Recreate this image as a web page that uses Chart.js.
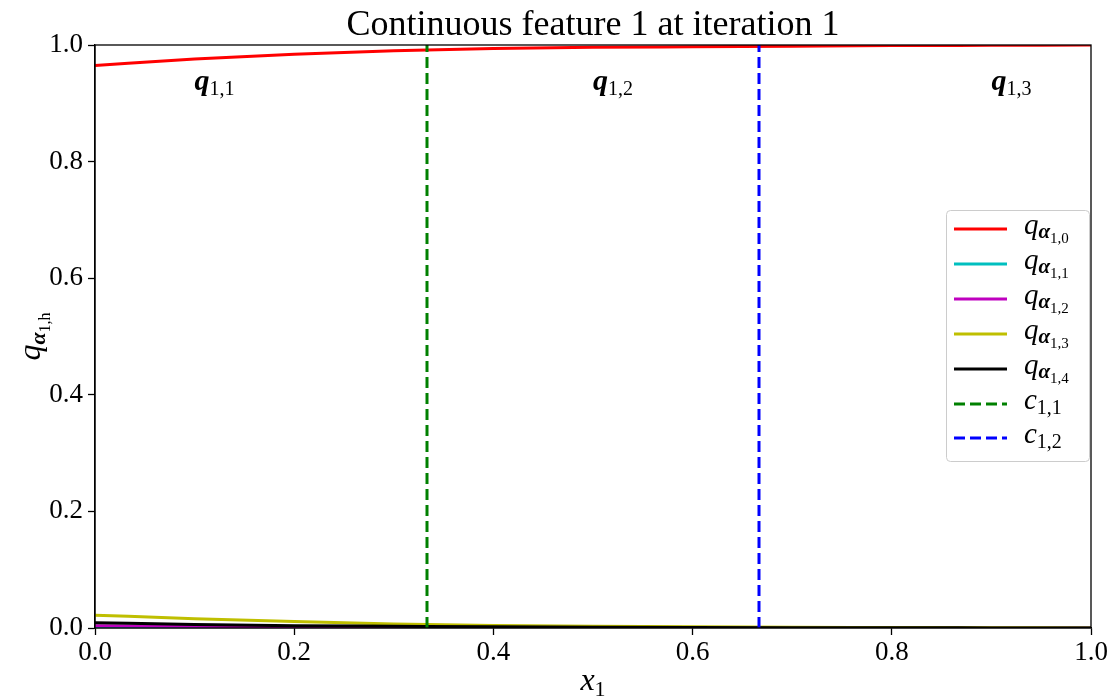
<!DOCTYPE html>
<html>
<head>
<meta charset="utf-8">
<script src="https://cdn.jsdelivr.net/npm/chart.js@4.4.1/dist/chart.umd.min.js"></script>
<style>
  html, body { margin: 0; padding: 0; background: #fff; }
  #wrap { width: 1117px; height: 700px; }
</style>
</head>
<body>
<div id="wrap"><canvas id="chart" width="1117" height="700"></canvas></div>
<script>
// --- data ---
const xs = [0, 0.1, 0.2, 0.3, 0.4, 0.5, 0.6, 0.7, 0.8, 0.9, 1.0];
const q0 = [0.965, 0.976, 0.984, 0.990, 0.994, 0.996, 0.997, 0.998, 0.999, 0.9995, 1.0];
const q1 = [0.001, 0.0008, 0.0006, 0.0004, 0.0003, 0.0002, 0.0001, 0.0001, 0, 0, 0];
const q2 = [0.004, 0.003, 0.002, 0.0015, 0.001, 0.0007, 0.0005, 0.0003, 0.0002, 0.0001, 0];
const q3 = [0.022, 0.016, 0.011, 0.007, 0.0045, 0.003, 0.002, 0.0012, 0.0008, 0.0004, 0.0002];
const q4 = [0.009, 0.006, 0.004, 0.003, 0.002, 0.0013, 0.0008, 0.0005, 0.0003, 0.0002, 0.0001];
const cuts = [1 / 3, 2 / 3];
const regionLabels = ['1,1', '1,2', '1,3'];
const regionX = [0.1, 0.5, 0.9];
const regionY = 0.922;
const xTicks = [0, 0.2, 0.4, 0.6, 0.8, 1.0];

const seriesColors = ['#ff0000', '#00bfbf', '#bf00bf', '#bfbf00', '#000000'];
const cutColors = ['#008000', '#0000ff'];
const serif = '"Liberation Serif", "DejaVu Serif", serif';

const pts = arr => arr.map((v, i) => ({ x: xs[i], y: v }));
const qSeries = [q0, q1, q2, q3, q4];

const datasets = qSeries.map((arr, i) => ({
  label: 'q' + i,
  data: pts(arr),
  borderColor: seriesColors[i],
  borderWidth: 3,
  pointRadius: 0,
  cubicInterpolationMode: 'monotone',
  order: 20 - i
}));
cuts.forEach((c, i) => {
  datasets.push({
    label: 'c' + i,
    data: [{ x: c, y: 0 }, { x: c, y: 1 }],
    borderColor: cutColors[i],
    borderWidth: 3,
    borderDash: [11, 5],
    pointRadius: 0,
    order: 5 - i
  });
});

// draw a piece of math-ish text: parts = [[text, font, dy], ...]
function drawParts(ctx, parts, x, y) {
  let cx = x;
  parts.forEach(([t, f, dy]) => {
    ctx.font = f;
    ctx.fillText(t, cx, y + (dy || 0));
    cx += ctx.measureText(t).width;
  });
  return cx - x;
}
function partsWidth(ctx, parts) {
  let w = 0;
  parts.forEach(([t, f]) => { ctx.font = f; w += ctx.measureText(t).width; });
  return w;
}

const qParts = sub => [
  ['q', 'italic 29px ' + serif, 0],
  ['α', 'bold italic 21px ' + serif, 4],
  [sub, '15px ' + serif, 9]
];

const decor = {
  id: 'decor',
  afterDraw(chart) {
    const ctx = chart.ctx;
    const a = chart.chartArea;
    const xs_ = chart.scales.x, ys_ = chart.scales.y;
    ctx.save();
    ctx.fillStyle = '#000';
    ctx.textBaseline = 'alphabetic';

    // frame
    ctx.strokeStyle = '#000';
    ctx.lineWidth = 1.3;
    ctx.strokeRect(a.left, a.top, a.right - a.left, a.bottom - a.top);

    // title
    ctx.font = '36px ' + serif;
    ctx.textAlign = 'center';
    ctx.fillText('Continuous feature 1 at iteration 1', (a.left + a.right) / 2, 35);

    // region labels
    ctx.textAlign = 'left';
    regionLabels.forEach((s, i) => {
      const px = xs_.getPixelForValue(regionX[i]);
      const py = ys_.getPixelForValue(regionY);
      drawParts(ctx, [['q', 'bold italic 30px ' + serif, 0], [s, '20px ' + serif, 5]], px, py);
    });

    // x label
    const xl = [['x', 'italic 32px ' + serif, 0], ['1', '22px ' + serif, 6]];
    drawParts(ctx, xl, (a.left + a.right) / 2 - partsWidth(ctx, xl) / 2, 690);

    // y label (rotated)
    ctx.save();
    ctx.translate(40, (a.top + a.bottom) / 2);
    ctx.rotate(-Math.PI / 2);
    const yl = [['q', 'italic 32px ' + serif, 0], ['α', 'bold italic 22px ' + serif, 5], ['1,h', '16px ' + serif, 10]];
    drawParts(ctx, yl, -partsWidth(ctx, yl) / 2, 0);
    ctx.restore();

    // legend
    const lx = 946, ly = 210, lw = 143, lh = 251;
    ctx.fillStyle = 'rgba(255,255,255,0.85)';
    ctx.strokeStyle = '#cccccc';
    ctx.lineWidth = 1;
    ctx.beginPath();
    ctx.roundRect(lx + 0.5, ly + 0.5, lw, lh, 4);
    ctx.fill();
    ctx.stroke();
    const rowY = [229, 264, 299, 334, 369, 404, 438];
    const entries = [];
    qSeries.forEach((_, i) => entries.push({ color: seriesColors[i], dash: [], parts: qParts('1,' + i) }));
    cuts.forEach((_, i) => entries.push({
      color: cutColors[i], dash: [11, 5],
      parts: [['c', 'italic 29px ' + serif, 0], ['1,' + (i + 1), '20px ' + serif, 5]]
    }));
    entries.forEach((e, i) => {
      ctx.strokeStyle = e.color;
      ctx.lineWidth = 3;
      ctx.setLineDash(e.dash);
      ctx.beginPath();
      ctx.moveTo(954, rowY[i]);
      ctx.lineTo(1007, rowY[i]);
      ctx.stroke();
      ctx.setLineDash([]);
      ctx.fillStyle = '#000';
      drawParts(ctx, e.parts, 1024, rowY[i] + 5);
    });
    ctx.restore();
  }
};

new Chart(document.getElementById('chart'), {
  type: 'line',
  data: { datasets },
  options: {
    responsive: false,
    animation: false,
    layout: { padding: { top: 45, right: 26, left: 0, bottom: 0 } },
    plugins: { legend: { display: false }, tooltip: { enabled: false } },
    scales: {
      x: {
        type: 'linear', min: 0, max: 1,
        afterFit: s => { s.height = 72; },
        afterBuildTicks: s => { s.ticks = xTicks.map(v => ({ value: v })); },
        grid: { drawOnChartArea: false, tickLength: 7, tickColor: '#000', tickWidth: 1.3 },
        border: { display: true, color: '#000', width: 1.3 },
        ticks: { color: '#000', font: { family: serif, size: 27 }, padding: 2,
                 maxRotation: 0, callback: v => v.toFixed(1) }
      },
      y: {
        min: 0, max: 1,
        afterFit: s => { s.width = 95; },
        grid: { drawOnChartArea: false, tickLength: 7, tickColor: '#000', tickWidth: 1.3 },
        border: { display: true, color: '#000', width: 1.3 },
        ticks: { color: '#000', font: { family: serif, size: 27 }, padding: 5,
                 stepSize: 0.2, callback: v => v.toFixed(1) }
      }
    }
  },
  plugins: [decor]
});
</script>
</body>
</html>
